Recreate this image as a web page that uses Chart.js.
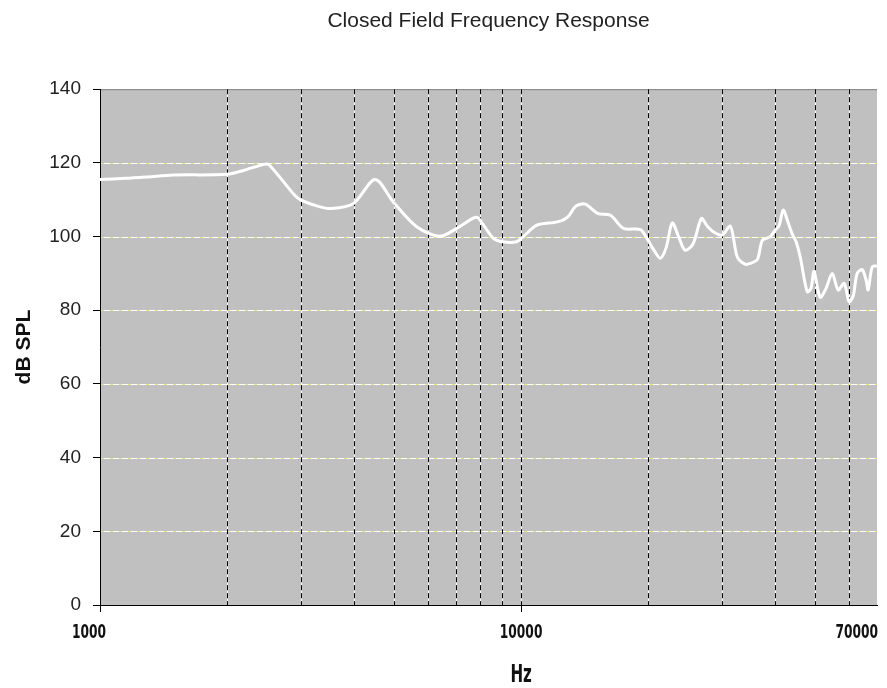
<!DOCTYPE html>
<html>
<head>
<meta charset="utf-8">
<title>Closed Field Frequency Response</title>
<script src="https://cdn.jsdelivr.net/npm/chart.js@4.4.1/dist/chart.umd.min.js"></script>
<style>
  body { margin: 0; background: #ffffff; }
  #wrap { width: 887px; height: 688px; }
</style>
</head>
<body>
<div id="wrap"><canvas id="chart" width="887" height="688"></canvas></div>
<script>
// ---- data ----
const chartTitle = 'Closed Field Frequency Response';
const xTitle = 'Hz';
const yTitle = 'dB SPL';

const freqHz = [
  1000, 1150, 1300, 1490, 2000, 2200, 2450, 2520, 2900, 3000,
  3300, 3550, 4000, 4500, 4970, 5660, 6420, 7050, 7700, 7900,
  8580, 9050, 9760, 10100, 10900, 12200, 12900, 13500, 14200, 15200,
  16300, 17500, 19200, 19900, 20600, 21400, 22100, 22850, 23650, 24500,
  25600, 26800, 27600, 28600, 30000, 31400, 32600, 34000, 35000, 36400,
  37400, 39000, 40100, 41000, 41900, 43000, 44000, 45000, 46000, 47800,
  48800, 49600, 51300, 53000, 54800, 56600, 58500, 60100, 61500, 62800,
  64600, 66000, 66700, 68200, 70000
];
const splDb = [
  115.5, 115.8, 116.2, 116.7, 116.9, 118.0, 119.6, 119.5, 111.2, 109.9,
  108.2, 107.6, 109.0, 115.5, 109.4, 102.6, 100.1, 102.3, 105.0, 105.1,
  99.6, 98.6, 98.6, 99.9, 103.1, 104.0, 105.3, 108.3, 108.8, 106.3,
  105.8, 102.2, 101.9, 99.5, 96.6, 94.1, 97.0, 103.7, 100.0, 96.3,
  98.0, 104.9, 103.0, 101.3, 100.4, 102.8, 94.5, 92.5, 92.7, 93.8,
  99.0, 99.9, 101.7, 103.0, 107.2, 104.0, 100.8, 98.5, 94.5, 85.0,
  86.0, 90.5, 83.5, 86.0, 90.0, 85.5, 87.3, 82.3, 84.0, 90.0,
  91.0, 88.0, 85.5, 91.8, 92.0
];

// vertical grid lines (Hz) and which ones carry a label
const gridFreqs = [1000, 2000, 3000, 4000, 5000, 6000, 7000, 8000, 9000,
  10000, 20000, 30000, 40000, 50000, 60000, 70000];
const xLabelFreqs = [1000, 10000, 70000];
const yTicks = [0, 20, 40, 60, 80, 100, 120, 140];

// ---- drawing helpers ----
const boldFont = "'DejaVu Sans Condensed', 'Liberation Sans', sans-serif";

// narrow bold text: squeeze horizontally like the original's condensed face
function narrowText(ctx, text, x, y, align, size, squeeze) {
  ctx.save();
  ctx.font = 'bold ' + size + 'px ' + boldFont;
  ctx.textAlign = align;
  ctx.textBaseline = 'middle';
  ctx.translate(x, y);
  ctx.scale(squeeze, 1);
  ctx.fillText(text, 0, 0);
  ctx.restore();
}

const plotPlugin = {
  id: 'plotDecor',
  beforeDraw(chart) {
    const { ctx, chartArea: a } = chart;
    ctx.save();
    ctx.fillStyle = '#c0c0c0';
    ctx.fillRect(a.left, a.top, a.right - a.left, a.bottom - a.top);
    ctx.strokeStyle = '#808080';
    ctx.lineWidth = 1;
    ctx.beginPath();
    ctx.moveTo(a.left, a.top + 0.5);
    ctx.lineTo(a.right, a.top + 0.5);
    ctx.stroke();
    ctx.restore();
  },
  beforeDatasetsDraw(chart) {
    const { ctx, chartArea: a, scales } = chart;
    ctx.save();
    ctx.lineWidth = 1;

    // horizontal: white with yellow dashes
    yTicks.forEach(v => {
      if (v === 0 || v === 140) return;
      const y = Math.round(scales.y.getPixelForValue(v)) + 0.5;
      ctx.setLineDash([]);
      ctx.strokeStyle = '#ffffff';
      ctx.beginPath(); ctx.moveTo(a.left + 1, y); ctx.lineTo(a.right, y); ctx.stroke();
      ctx.setLineDash([3, 6]);
      ctx.strokeStyle = '#e6e67a';
      ctx.beginPath(); ctx.moveTo(a.left + 1, y); ctx.lineTo(a.right, y); ctx.stroke();
    });

    // vertical: white with black dashes
    gridFreqs.forEach(f => {
      if (f === 1000 || f === 70000) return;
      const x = Math.round(scales.x.getPixelForValue(f)) + 0.5;
      ctx.setLineDash([]);
      ctx.strokeStyle = '#ffffff';
      ctx.beginPath(); ctx.moveTo(x, a.top); ctx.lineTo(x, a.bottom); ctx.stroke();
      ctx.setLineDash([5, 3]);
      ctx.strokeStyle = '#000000';
      ctx.beginPath(); ctx.moveTo(x, a.top); ctx.lineTo(x, a.bottom); ctx.stroke();
    });
    ctx.restore();
  },
  afterDraw(chart) {
    const { ctx, scales } = chart;
    ctx.save();
    ctx.fillStyle = '#111111';
    xLabelFreqs.forEach((f, i) => {
      const x = scales.x.getPixelForValue(f);
      if (i === 0) narrowText(ctx, String(f), x - 11, 633, 'center', 20, 0.68);
      else if (i === xLabelFreqs.length - 1) narrowText(ctx, String(f), x + 1, 633, 'right', 20, 0.68);
      else narrowText(ctx, String(f), x, 633, 'center', 20, 0.68);
    });
    narrowText(ctx, xTitle, scales.x.getPixelForValue(10000), 676, 'center', 24, 0.7);
    ctx.restore();
  }
};

new Chart(document.getElementById('chart'), {
  type: 'line',
  data: {
    datasets: [{
      data: freqHz.map((f, i) => ({ x: f, y: splDb[i] })),
      borderColor: '#ffffff',
      borderWidth: 3,
      pointRadius: 0,
      tension: 0.3,
      fill: false
    }]
  },
  options: {
    responsive: false,
    animation: false,
    layout: { padding: { left: 0, right: 10, top: 0, bottom: 0 } },
    plugins: {
      legend: { display: false },
      tooltip: { enabled: false },
      title: {
        display: true,
        text: chartTitle,
        fullSize: false,
        color: '#222222',
        font: { family: "'Liberation Sans', Arial, sans-serif", size: 21, weight: 'normal' },
        padding: { top: 9, bottom: 55 }
      }
    },
    scales: {
      x: {
        type: 'logarithmic',
        min: 1000,
        max: 70000,
        afterBuildTicks: s => { s.ticks = gridFreqs.map(v => ({ value: v })); },
        afterFit: s => { s.height = 83; s.paddingLeft = 0; s.paddingRight = 0; },
        ticks: { display: false },
        grid: {
          drawOnChartArea: false,
          drawTicks: true,
          tickLength: 7,
          color: c => (c.tick && (c.tick.value === 1000 || c.tick.value === 10000)) ? '#000000' : 'rgba(0,0,0,0)'
        },
        border: { display: true, color: '#000000', width: 1 }
      },
      y: {
        min: 0,
        max: 140,
        afterBuildTicks: s => { s.ticks = yTicks.map(v => ({ value: v })); },
        afterFit: s => { s.width = 100; },
        ticks: {
          color: '#222222',
          padding: 12,
          font: { family: "'Liberation Sans', Arial, sans-serif", size: 19 }
        },
        grid: {
          drawOnChartArea: false,
          drawTicks: true,
          tickLength: 7,
          color: '#000000'
        },
        border: { display: true, color: '#000000', width: 1 },
        title: {
          display: true,
          text: yTitle,
          color: '#111111',
          padding: { top: 12, bottom: 0 },
          font: { family: "'Liberation Sans', Arial, sans-serif", size: 21, weight: 'bold' }
        }
      }
    }
  },
  plugins: [plotPlugin]
});
</script>
</body>
</html>
